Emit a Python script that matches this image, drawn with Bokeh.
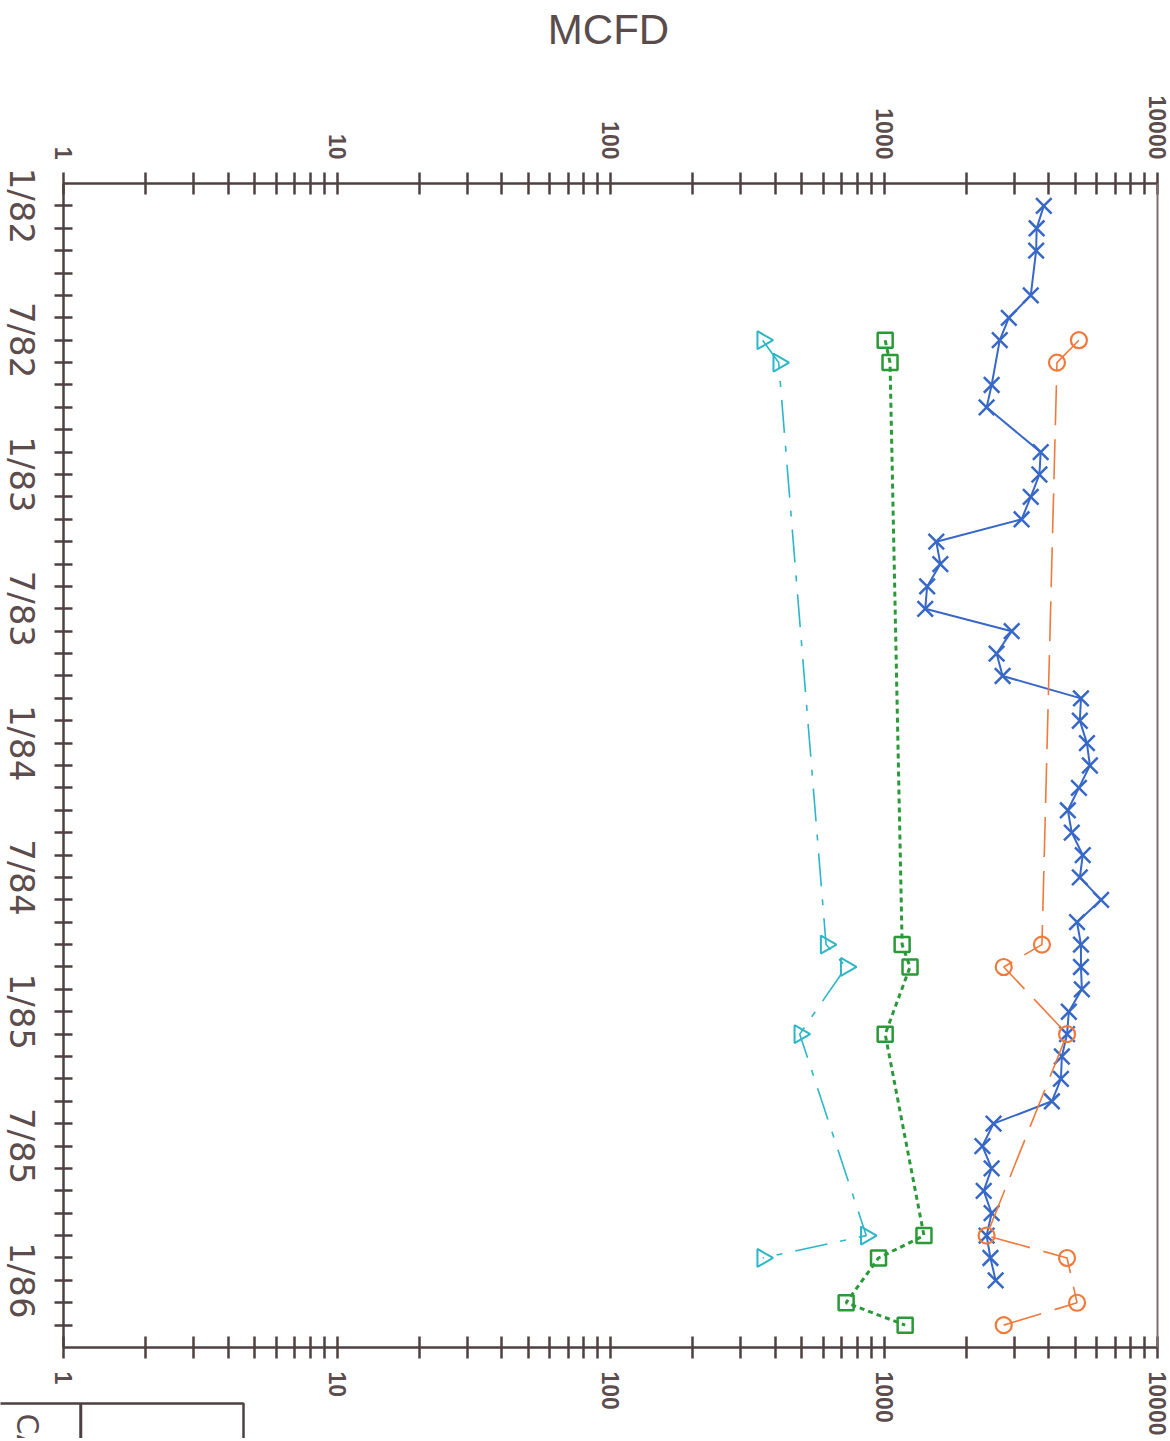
import math
from bokeh.plotting import figure
from bokeh.models import (Range1d, LogAxis, LinearAxis, FixedTicker, Label,
                          BoxAnnotation)
from bokeh.embed import file_html
from bokeh.resources import INLINE

# ---- data (months since 1/82 ; MCFD) ----
months_blue = [0, 1, 2, 4, 5, 6, 8, 9, 11, 12, 13, 14, 15, 16, 17, 18, 19, 20, 21,
               22, 23, 24, 25, 26, 27, 28, 29, 30, 31, 32, 33, 34, 35, 36, 37, 38,
               39, 40, 41, 42, 43, 44, 45, 46, 47, 48]
blue_vals = [3840, 3615, 3600, 3440, 2860, 2650, 2475, 2372, 3740, 3700, 3440, 3185,
             1553, 1607, 1438, 1415, 2930, 2580, 2715, 5250, 5200, 5520, 5660, 5160,
             4700, 4860, 5330, 5200, 6220, 5080, 5250, 5250, 5290, 4740, 4670, 4470,
             4435, 4110, 2515, 2290, 2475, 2315, 2475, 2372, 2450, 2560]

months_orange = [6, 7, 33, 34, 37, 46, 47, 49, 50]
orange_vals = [5160, 4290, 3780, 2740, 4670, 2372, 4670, 5080, 2740]

months_green = [6, 7, 33, 34, 37, 46, 47, 49, 50]
green_vals = [1010, 1052, 1165, 1245, 1010, 1400, 955, 727, 1195]

months_cyan = [6, 7, 33, 34, 37, 46, 47]
cyan_vals = [360, 412, 614, 727, 492, 861, 360]

date_ticks = [0, 6, 12, 18, 24, 30, 36, 42, 48]
date_labels = ["1/82", "7/82", "1/83", "7/83", "1/84", "7/84", "1/85", "7/85", "1/86"]
month_ticks = list(range(0, 51))
log_ticks = [1, 10, 100, 1000, 10000]
log_labels = ["1", "10", "100", "1000", "10000"]
log_minor = [k * 10 ** d for d in range(4) for k in range(2, 10)]
title_text = "MCFD"
legend_label = "CA"

# ---- geometry (pixels) ----
W, H = 1168, 1438
X1_PX, PX_DEC = 63, 273.5          # where value 1 sits, pixels per decade
Y0_PX, PX_MON = 183, 22.385        # where month -1 sits, pixels per month
M_FIRST, M_LAST = -1, 51


def xval(px):
    return 10 ** ((px - X1_PX) / PX_DEC)


def mval(py):
    return M_FIRST + (py - Y0_PX) / PX_MON


AX = "#4e4040"
TXT = "#5c4c4c"

p = figure(frame_width=W, frame_height=H, x_axis_type="log",
           x_range=Range1d(xval(0), xval(W)), y_range=Range1d(mval(H), mval(0)),
           x_axis_location=None, y_axis_location=None, title_location=None,
           output_backend="svg", toolbar_location=None,
           min_border_left=0, min_border_right=0, min_border_top=0,
           min_border_bottom=0, background_fill_color="white",
           border_fill_color="white")
p.xgrid.visible = False
p.ygrid.visible = False
p.outline_line_color = None


def log_axis(loc, side):
    ax = LogAxis(fixed_location=loc, bounds=(1, 10000))
    ax.ticker = FixedTicker(ticks=log_ticks, minor_ticks=log_minor)
    ax.major_label_overrides = {t: l for t, l in zip(log_ticks, log_labels)}
    ax.axis_line_color = AX
    ax.axis_line_width = 2.5
    ax.major_tick_line_color = AX
    ax.minor_tick_line_color = AX
    ax.major_tick_line_width = 2.5
    ax.minor_tick_line_width = 2.5
    ax.major_tick_in = 11
    ax.major_tick_out = 11
    ax.minor_tick_in = 11
    ax.minor_tick_out = 11
    ax.major_label_orientation = -math.pi / 2
    ax.major_label_text_font = "Liberation Sans"
    ax.major_label_text_font_style = "bold"
    ax.major_label_text_font_size = "23px"
    ax.major_label_text_color = TXT
    ax.major_label_standoff = 13
    p.add_layout(ax, side)


log_axis(M_FIRST, "above")
log_axis(M_LAST, "below")

# left axis: monthly tick marks
ya = LinearAxis(fixed_location=1, bounds=(M_FIRST, M_LAST))
ya.ticker = FixedTicker(ticks=month_ticks)
ya.major_label_overrides = {m: "" for m in month_ticks}
ya.axis_line_color = AX
ya.axis_line_width = 2.5
ya.major_tick_line_color = AX
ya.major_tick_line_width = 2.5
ya.major_tick_in = 9
ya.major_tick_out = 9
ya.minor_tick_line_color = None
p.add_layout(ya, "left")

# date labels (rotated, centred on their month)
LBL_FONT = 34
half_len = (LBL_FONT * 2.245 / 2) / PX_MON
lab_pos = [t + half_len for t in date_ticks]
date_axis = LinearAxis(fixed_location=xval(21))
date_axis.ticker = FixedTicker(ticks=lab_pos)
date_axis.major_label_overrides = {v: l for v, l in zip(lab_pos, date_labels)}
date_axis.axis_line_color = None
date_axis.major_tick_line_color = None
date_axis.minor_tick_line_color = None
date_axis.major_tick_in = 0
date_axis.major_tick_out = 0
date_axis.major_label_standoff = 0
date_axis.major_label_orientation = -math.pi / 2
date_axis.major_label_text_font = "DejaVu Sans"
date_axis.major_label_text_font_size = f"{LBL_FONT}px"
date_axis.major_label_text_color = TXT
p.add_layout(date_axis, "left")

# right frame edge
ra = LinearAxis(fixed_location=10000, bounds=(M_FIRST, M_LAST))
ra.ticker = FixedTicker(ticks=[])
ra.axis_line_color = "#7d6e6e"
ra.axis_line_width = 2
ra.major_tick_line_color = None
ra.minor_tick_line_color = None
p.add_layout(ra, "right")

# title
p.add_layout(Label(x=608, x_units="screen", y=mval(29), y_units="data",
                   text=title_text, text_align="center", text_baseline="middle",
                   text_font="Liberation Sans", text_font_size="42px",
                   text_color="#5a4c4c"))

BLUE = "#3768c8"
ORANGE = "#f07a3c"
GREEN = "#2a9a38"
CYAN = "#2cb6c8"

p.line(x=blue_vals, y=months_blue, line_color=BLUE, line_width=2)
p.scatter(x=blue_vals, y=months_blue, marker="x", size=22, line_color=BLUE, line_width=2.5)

p.line(x=orange_vals, y=months_orange, line_color=ORANGE, line_width=1.6, line_dash="40 14")
p.scatter(x=orange_vals, y=months_orange, marker="circle", size=16, fill_color=None,
          line_color=ORANGE, line_width=2.2)

p.line(x=green_vals, y=months_green, line_color=GREEN, line_width=3, line_dash="5 4")
p.scatter(x=green_vals, y=months_green, marker="square", size=15, fill_color=None,
          line_color=GREEN, line_width=2.5)

p.line(x=cyan_vals, y=months_cyan, line_color=CYAN, line_width=1.6, line_dash="33 13 6 13")
p.scatter(x=cyan_vals, y=months_cyan, marker="triangle", size=18, angle=-math.pi / 2,
          fill_color=None, line_color=CYAN, line_width=2)

# partially visible legend box at the bottom-left
p.add_layout(BoxAnnotation(left=-10, right=243, top=mval(1403), bottom=mval(H + 20),
                           left_units="screen", right_units="screen",
                           fill_color=None, fill_alpha=0, line_color=AX,
                           line_alpha=1, line_width=2.5))
p.add_layout(BoxAnnotation(left=79, right=81.5, top=mval(1403), bottom=mval(H + 20),
                           left_units="screen", right_units="screen",
                           fill_color=AX, fill_alpha=1, line_color=AX, line_alpha=1,
                           line_width=0.5))
p.add_layout(Label(x=27, x_units="screen", y=mval(1413), y_units="data",
                   text=legend_label, angle=-math.pi / 2, text_align="left",
                   text_baseline="middle", text_font="DejaVu Sans",
                   text_font_size="30px", text_color=TXT))

open("out.html", "w").write(file_html(p, INLINE))
